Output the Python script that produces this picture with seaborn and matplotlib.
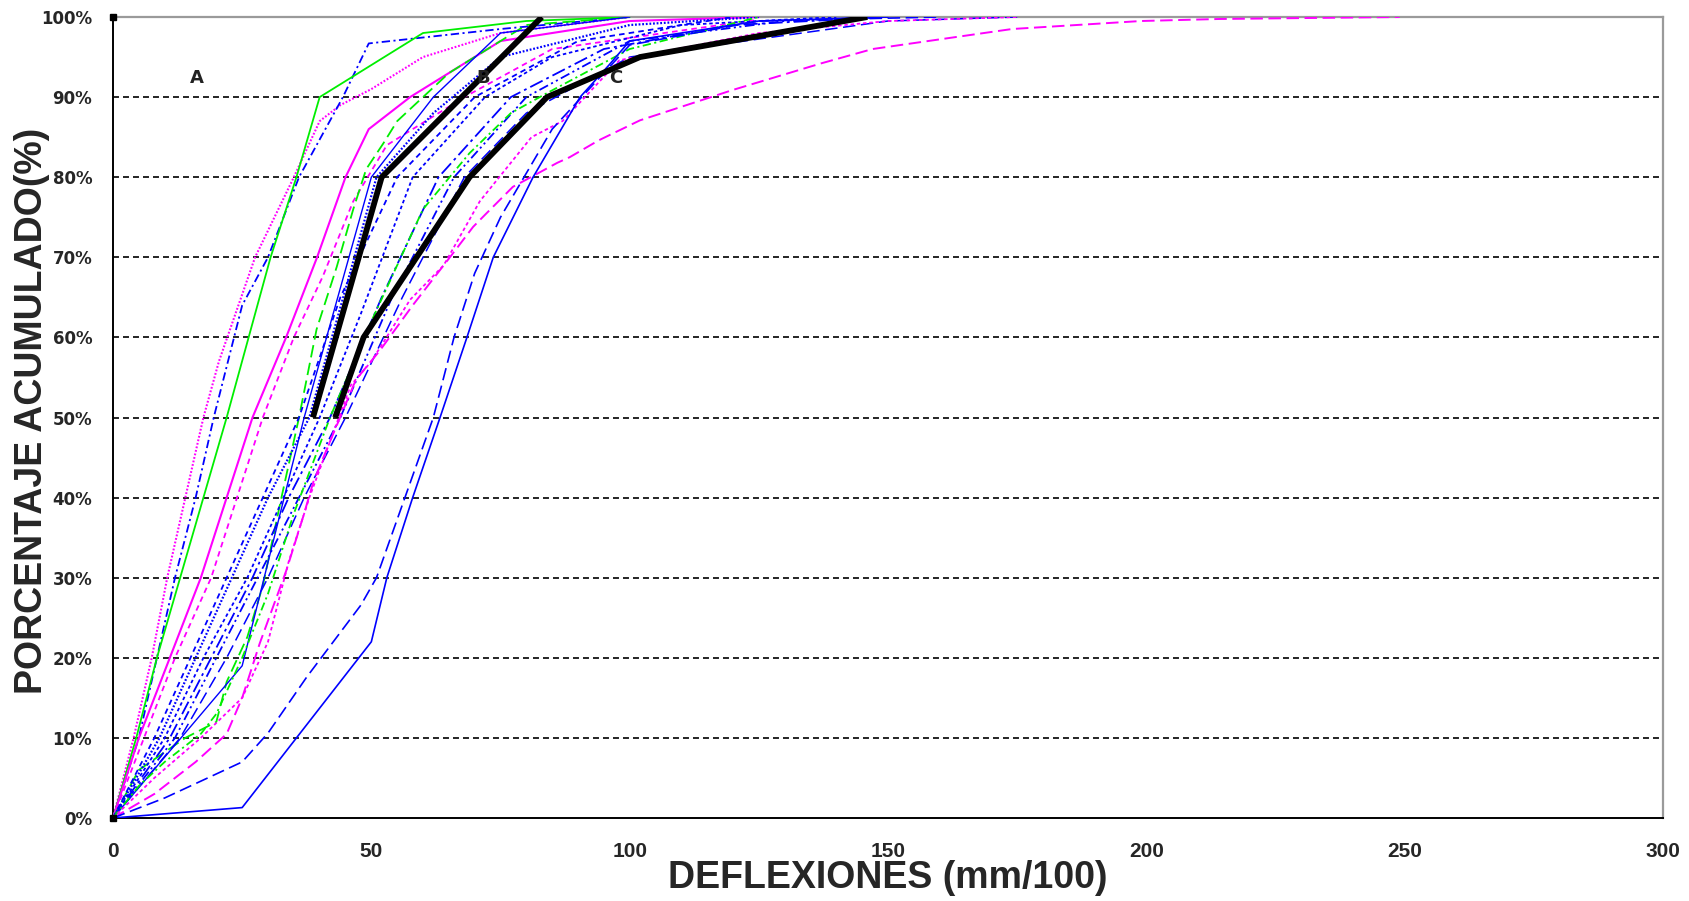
import matplotlib
matplotlib.use("Agg")
import matplotlib.pyplot as plt
import seaborn as sns
import pandas as pd

# ---------------- data (deflection in mm/100, cumulative %) ----------------
x_ticks = [0, 50, 100, 150, 200, 250, 300]
y_ticks = [0, 10, 20, 30, 40, 50, 60, 70, 80, 90, 100]
y_tick_labels = ["0%", "10%", "20%", "30%", "40%", "50%", "60%", "70%", "80%", "90%", "100%"]

c01_x = [0, 4, 7.5, 10.5, 14, 17.5, 20.5, 27.5, 35, 40, 44, 50, 60, 75, 100]
c01_y = [0, 10, 20, 30, 40, 50, 57, 70, 80, 87, 89, 91, 95, 98, 100]
c02_x = [0, 5, 8.5, 12, 16, 19.5, 25, 30, 36, 44.5, 49.5, 75, 100]
c02_y = [0, 10, 20, 30, 40, 50, 64, 70, 80, 90, 96.7, 98.5, 100]
c03_x = [0, 4.5, 8.5, 13, 22, 30.5, 35.5, 40, 60, 80, 100]
c03_y = [0, 10, 20, 30, 50, 70, 80, 90, 98, 99.5, 100]
c04_x = [0, 5, 11, 17, 27, 33.5, 39.5, 45, 49.5, 57.5, 75, 100, 125]
c04_y = [0, 10, 20, 30, 50, 60, 70, 80, 86, 90, 97, 99.5, 100]
c05_x = [0, 6, 12, 19, 29, 35, 40.6, 46.5, 53, 68, 85, 124]
c05_y = [0, 10, 20, 30, 50, 60, 67.6, 77, 84, 90, 96, 99.6]
c06_x = [0, 5, 14, 20, 22, 26, 29, 32.6, 36, 39.4, 43.3, 46.5, 49, 52.3, 55, 60, 65, 80, 100]
c06_y = [0, 6, 10, 12, 17, 22.6, 29, 40, 50, 61, 68.8, 76, 81, 84.2, 87, 90, 93, 99, 100]
c07_x = [0, 25, 37, 50, 62, 75, 100]
c07_y = [0, 19, 50, 80, 90, 98, 100]
c08_x = [0, 9, 16, 23, 30, 38, 45, 51, 62, 75, 100, 125]
c08_y = [0, 10, 20, 30, 40, 50, 66, 80, 88, 95, 99, 100]
c09_x = [0, 10, 17.5, 26, 33, 40, 48, 58, 72, 85, 110, 140]
c09_y = [0, 10, 20, 30, 40, 50, 63, 80, 90, 95, 99, 100]
c10_x = [0, 11, 19, 27, 34, 42, 52, 63, 77, 95, 120, 150]
c10_y = [0, 10, 20, 30, 40, 50, 65, 80, 90, 96, 99, 100]
c11_x = [0, 12, 20, 28, 36, 44, 54, 66, 80, 100, 130, 150]
c11_y = [0, 10, 20, 30, 40, 50, 65, 80, 90, 97, 99.5, 100]
c12_x = [0, 8, 15, 22, 29, 36, 44, 55, 70, 90, 120]
c12_y = [0, 10, 20, 30, 40, 50, 65, 80, 90, 97, 100]
c13_x = [0, 13, 22, 30, 37, 45, 56, 68, 80, 100, 150, 175]
c13_y = [0, 10, 20, 30, 40, 50, 65, 80, 88, 95, 99.5, 100]
c14_x = [0, 5, 10, 17, 20, 25, 30, 35, 42, 50, 60, 69, 77, 84, 100, 125]
c14_y = [0, 4, 7, 10.5, 13, 20, 28, 38, 50, 62, 76, 83, 88, 90.5, 96, 100]
c15_x = [0, 8, 17, 25, 30, 34, 38, 42, 46, 50, 57.5, 64, 71, 81, 87, 98, 125, 150, 175]
c15_y = [0, 5, 10, 15, 22, 32, 40, 47, 54, 57, 64.7, 69, 77, 85, 87, 94.6, 98, 99.5, 100]
c16_x = [0, 8, 16, 22, 25, 28.4, 33.6, 36.8, 38.8, 42, 47, 51.7, 58, 65.8, 69.7, 72.3, 77.4,
         80, 86, 88.4, 94, 102, 120, 137, 147, 161, 174, 199, 214, 249]
c16_y = [0, 3, 7, 10.5, 15, 21.8, 31, 37.6, 42, 47, 54.7, 58.4, 64, 70.5, 73.8, 75.5, 78.8,
         79.7, 81.8, 82.5, 84.6, 87.1, 90.9, 94.2, 96, 97.3, 98.5, 99.5, 99.75, 100]
c17_x = [0, 10, 20, 25, 30, 37.5, 48, 51, 56.5, 62, 66, 70, 75, 85, 100, 125, 160]
c17_y = [0, 2.5, 5.5, 7, 10.6, 17.6, 26.6, 30, 40, 50, 60, 68, 75, 86, 96.5, 99.5, 100]
c18_x = [0, 25, 50, 53, 58, 63.3, 68.5, 73.6, 81.3, 90.4, 96, 100, 125, 150]
c18_y = [0, 1.3, 22, 30, 40, 50, 60, 70, 80, 90, 94, 97, 99.5, 100]

lim_b_x = [38.7, 52, 83]
lim_b_y = [50, 80, 100]
lim_c_x = [43, 48.5, 69, 84, 102, 146]
lim_c_y = [50, 60, 80, 90, 95, 100]

zone_labels = ["A", "B", "C"]
zone_label_x = [16.3, 71.6, 97.4]
zone_label_y = [92.4, 92.4, 92.4]

corner_x = [0, 0]
corner_y = [0, 100]

# ---------------- styles ----------------
BLUE, MAG, GRN = "#0000FF", "#FF00FF", "#00EE00"
DOT = (0, (1.3, 1.3))
DASH = (0, (4, 3))
SDASH = (0, (2.5, 2))
LDASH = (0, (9, 4))
DASHDOT = (0, (6, 2.5, 1.5, 2.5))
LDASHDOT = (0, (10, 3, 2, 3))
DASHDOTDOT = (0, (7, 2.5, 1.5, 2.5, 1.5, 2.5))

series = [
    (c01_x, c01_y, MAG, DOT, 1.5),
    (c02_x, c02_y, BLUE, DASHDOT, 1.3),
    (c03_x, c03_y, GRN, "-", 1.3),
    (c04_x, c04_y, MAG, "-", 1.5),
    (c05_x, c05_y, MAG, DASH, 1.3),
    (c06_x, c06_y, GRN, LDASH, 1.3),
    (c07_x, c07_y, BLUE, "-", 1.0),
    (c08_x, c08_y, BLUE, DOT, 1.6),
    (c09_x, c09_y, BLUE, SDASH, 1.3),
    (c10_x, c10_y, BLUE, LDASHDOT, 1.3),
    (c11_x, c11_y, BLUE, DASHDOTDOT, 1.3),
    (c12_x, c12_y, BLUE, DASH, 1.3),
    (c13_x, c13_y, BLUE, LDASH, 1.1),
    (c14_x, c14_y, GRN, DASHDOT, 1.3),
    (c15_x, c15_y, MAG, SDASH, 1.3),
    (c16_x, c16_y, MAG, LDASH, 1.4),
    (c17_x, c17_y, BLUE, LDASH, 1.2),
    (c18_x, c18_y, BLUE, "-", 1.2),
]

sns.set_style("white")
plt.rcParams["font.family"] = ["Liberation Sans", "DejaVu Sans"]
plt.rcParams["lines.scale_dashes"] = False

fig = plt.figure(figsize=(16.9, 9.01), dpi=100)
ax = fig.add_axes([113 / 1690, 1 - 818 / 901, 1550 / 1690, 801 / 901])

# grid lines (dashed, black) at 10..90 %
for yv in y_ticks[1:-1]:
    ax.axhline(yv, color="black", lw=1.2, linestyle=(0, (4.3, 2.9)), zorder=1)

for xs, ys, col, ls, lw in series:
    df = pd.DataFrame({"x": xs, "y": ys})
    sns.lineplot(data=df, x="x", y="y", ax=ax, color=col, linestyle=ls, lw=lw,
                 sort=False, estimator=None, zorder=3)

for xs, ys in [(lim_b_x, lim_b_y), (lim_c_x, lim_c_y)]:
    df = pd.DataFrame({"x": xs, "y": ys})
    sns.lineplot(data=df, x="x", y="y", ax=ax, color="black", lw=4.2,
                 sort=False, estimator=None, zorder=5, solid_capstyle="butt")

ax.plot(corner_x, corner_y, "s", color="black", ms=5, clip_on=False, zorder=6)

for t, xv, yv in zip(zone_labels, zone_label_x, zone_label_y):
    ax.text(xv, yv, t, ha="center", va="center", fontsize=13, fontweight="bold",
            color="#222222", family="DejaVu Sans", zorder=7)

ax.set_xlim(0, 300)
ax.set_ylim(0, 100)
ax.set_xticks(x_ticks)
ax.set_yticks(y_ticks)
ax.set_yticklabels(y_tick_labels)
ax.tick_params(axis="x", direction="out", length=6, width=1.2, pad=11, labelsize=15)
ax.tick_params(axis="y", direction="out", length=6, width=1.2, pad=9, labelsize=12)
for lab in ax.get_xticklabels():
    lab.set_fontweight("bold")
for lab in ax.get_yticklabels():
    lab.set_fontweight("bold")
    lab.set_family("DejaVu Sans")

for side in ["left", "bottom"]:
    ax.spines[side].set_color("black")
    ax.spines[side].set_linewidth(1.4)
for side in ["top", "right"]:
    ax.spines[side].set_color("#9a9a9a")
    ax.spines[side].set_linewidth(1.6)

ax.set_xlabel("DEFLEXIONES (mm/100)", fontsize=27, fontweight="bold")
ax.set_ylabel("PORCENTAJE ACUMULADO(%)", fontsize=27, fontweight="bold")
ax.xaxis.label.set_va("center")
ax.yaxis.label.set_va("center")
ax.xaxis.set_label_coords(0.5, (818 - 878) / 801)
ax.yaxis.set_label_coords((32 - 113) / 1550, 0.508)

fig.savefig("out.png", dpi=100, facecolor="white")
